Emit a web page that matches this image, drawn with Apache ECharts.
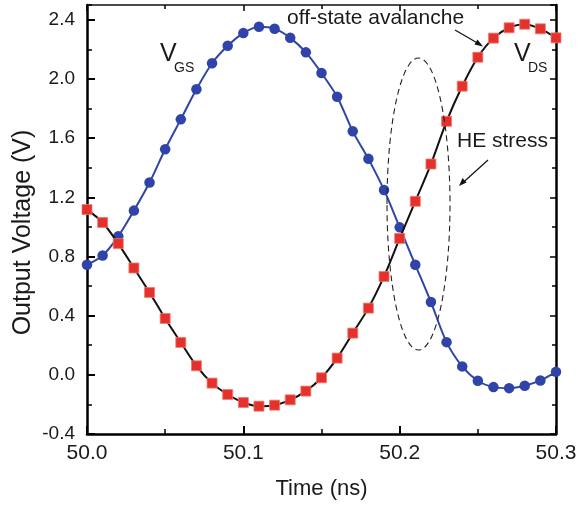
<!DOCTYPE html>
<html>
<head>
<meta charset="utf-8">
<script src="https://cdn.jsdelivr.net/npm/echarts@6/dist/echarts.min.js"></script>
<style>
html,body{margin:0;padding:0;background:#fff;}
#chart{width:583px;height:507px;}
</style>
</head>
<body>
<div id="chart"></div>
<script>
// ---- data ----
var times = [50.00, 50.01, 50.02, 50.03, 50.04, 50.05, 50.06, 50.07, 50.08, 50.09,
             50.10, 50.11, 50.12, 50.13, 50.14, 50.15, 50.16, 50.17, 50.18, 50.19,
             50.20, 50.21, 50.22, 50.23, 50.24, 50.25, 50.26, 50.27, 50.28, 50.29, 50.30];
var vgs = [0.744, 0.807, 0.936, 1.11, 1.30, 1.525, 1.727, 1.93, 2.106, 2.224,
           2.31, 2.353, 2.34, 2.278, 2.18, 2.04, 1.88, 1.646, 1.46, 1.25,
           0.997, 0.744, 0.492, 0.221, 0.057, -0.04, -0.083, -0.09, -0.074, -0.038, 0.02];
var vds = [1.117, 1.03, 0.887, 0.722, 0.557, 0.381, 0.219, 0.061, -0.056, -0.133,
           -0.187, -0.212, -0.205, -0.169, -0.11, -0.02, 0.113, 0.282, 0.451, 0.665,
           0.922, 1.173, 1.425, 1.714, 1.951, 2.147, 2.276, 2.346, 2.37, 2.339, 2.278];
var xTicks = {min: 50.0, max: 50.3, step: 0.1};
var yTicks = {min: -0.4, max: 2.5, step: 0.4};

function pairs(xs, ys){ var out=[]; for (var i=0;i<xs.length;i++) out.push([xs[i], ys[i]]); return out; }

var FONT = 'Liberation Sans, Arial, Helvetica, sans-serif';
var TXT = '#1a1a1a';

var chart = echarts.init(document.getElementById('chart'), null, {renderer:'canvas'});

var baseX = {
  type:'value', min:xTicks.min, max:xTicks.max, interval:xTicks.step,
  splitLine:{show:false}
};
var option = {
  animation:false,
  backgroundColor:'#fff',
  grid:{left:87, right:27, top:5, bottom:73, containLabel:false},
  xAxis:[
    Object.assign({}, baseX, {
      position:'bottom',
      axisLine:{show:true, onZero:false, lineStyle:{color:'#000', width:2.5}},
      axisTick:{show:true, inside:true, length:8, lineStyle:{color:'#000', width:2}},
      minorTick:{show:true, splitNumber:2, length:5, lineStyle:{color:'#000', width:1.5}},
      axisLabel:{show:true, margin:9, fontSize:21, fontFamily:FONT, color:TXT,
        formatter:function(v){ return v.toFixed(1); }}
    }),
    Object.assign({}, baseX, {
      position:'top',
      axisLine:{show:true, onZero:false, lineStyle:{color:'#111', width:1.5}},
      axisTick:{show:true, inside:true, length:6, lineStyle:{color:'#000', width:1.5}},
      minorTick:{show:true, splitNumber:2, length:4, lineStyle:{color:'#000', width:1.5}},
      axisLabel:{show:false}
    })
  ],
  yAxis:[
    {
      type:'value', position:'left', min:yTicks.min, max:yTicks.max, interval:yTicks.step,
      splitLine:{show:false},
      axisLine:{show:true, onZero:false, lineStyle:{color:'#000', width:2.5}},
      axisTick:{show:true, inside:true, length:8, lineStyle:{color:'#000', width:2}},
      axisLabel:{show:true, margin:12, fontSize:19, fontFamily:FONT, color:TXT, showMaxLabel:false,
        formatter:function(v){ return v.toFixed(1); }}
    },
    {
      type:'value', position:'left', min:yTicks.min, max:yTicks.max, interval:yTicks.step/2,
      splitLine:{show:false},
      axisLine:{show:false},
      axisTick:{show:true, inside:true, length:5, lineStyle:{color:'#000', width:1.5}},
      axisLabel:{show:false}
    },
    {
      type:'value', position:'right', min:yTicks.min, max:yTicks.max, interval:yTicks.step,
      splitLine:{show:false},
      axisLine:{show:true, onZero:false, lineStyle:{color:'#000', width:2.5}},
      axisTick:{show:true, inside:true, length:6, lineStyle:{color:'#000', width:1.5}},
      axisLabel:{show:false}
    },
    {
      type:'value', position:'right', min:yTicks.min, max:yTicks.max, interval:yTicks.step/2,
      splitLine:{show:false},
      axisLine:{show:false},
      axisTick:{show:true, inside:true, length:4, lineStyle:{color:'#000', width:1.5}},
      axisLabel:{show:false}
    }
  ],
  series:[
    {
      name:'VGS', type:'line', xAxisIndex:0, yAxisIndex:0,
      data:pairs(times, vgs), smooth:0.3,
      symbol:'circle', symbolSize:10.5,
      lineStyle:{color:'#2e46a6', width:2},
      itemStyle:{color:'#2f43a8', borderWidth:0},
      z:3
    },
    {
      name:'VDS', type:'line', xAxisIndex:0, yAxisIndex:0,
      data:pairs(times, vds), smooth:0.3,
      symbol:'rect', symbolSize:10,
      lineStyle:{color:'#111', width:2},
      itemStyle:{color:'#e5312b', borderColor:'#f07a70', borderWidth:0.8},
      z:4
    }
  ],
  graphic:[
    // y axis title
    {type:'text', x:23, y:232.5, rotation:Math.PI/2,
      style:{text:'Output Voltage (V)', font:'25px '+FONT, fill:TXT, align:'center', verticalAlign:'middle'}},
    // x axis title
    {type:'text', x:321.5, y:489,
      style:{text:'Time (ns)', font:'22px '+FONT, fill:TXT, align:'center', verticalAlign:'middle'}},
    // V_GS label
    {type:'text', x:160, y:54, style:{text:'V', font:'25px '+FONT, fill:TXT, align:'left', verticalAlign:'middle'}},
    {type:'text', x:174, y:68.5, style:{text:'GS', font:'14px '+FONT, fill:TXT, align:'left', verticalAlign:'middle'}},
    // V_DS label
    {type:'text', x:514, y:54, style:{text:'V', font:'25px '+FONT, fill:TXT, align:'left', verticalAlign:'middle'}},
    {type:'text', x:528, y:68.5, style:{text:'DS', font:'14px '+FONT, fill:TXT, align:'left', verticalAlign:'middle'}},
    // annotations
    {type:'text', x:287, y:18, style:{text:'off-state avalanche', font:'21px '+FONT, fill:TXT, align:'left', verticalAlign:'middle'}},
    {type:'text', x:457, y:141, style:{text:'HE stress', font:'21px '+FONT, fill:TXT, align:'left', verticalAlign:'middle'}},
    // arrows
    {type:'line', shape:{x1:455, y1:30, x2:480, y2:44.5}, style:{stroke:'#111', lineWidth:1.2}},
    {type:'polygon', shape:{points:[[483,46.5],[474.5,44.5],[477.5,39.5]]}, style:{fill:'#111'}},
    {type:'line', shape:{x1:488, y1:160, x2:462, y2:183.5}, style:{stroke:'#111', lineWidth:1.2}},
    {type:'polygon', shape:{points:[[459,186],[462.5,178],[466.5,182.5]]}, style:{fill:'#111'}},
    // dashed ellipse
    {type:'ellipse', shape:{cx:418.5, cy:204, rx:31.5, ry:146},
      style:{fill:'none', stroke:'#222', lineWidth:1.1, lineDash:[6,4]}, z:10}
  ]
};
chart.setOption(option);
</script>
</body>
</html>
